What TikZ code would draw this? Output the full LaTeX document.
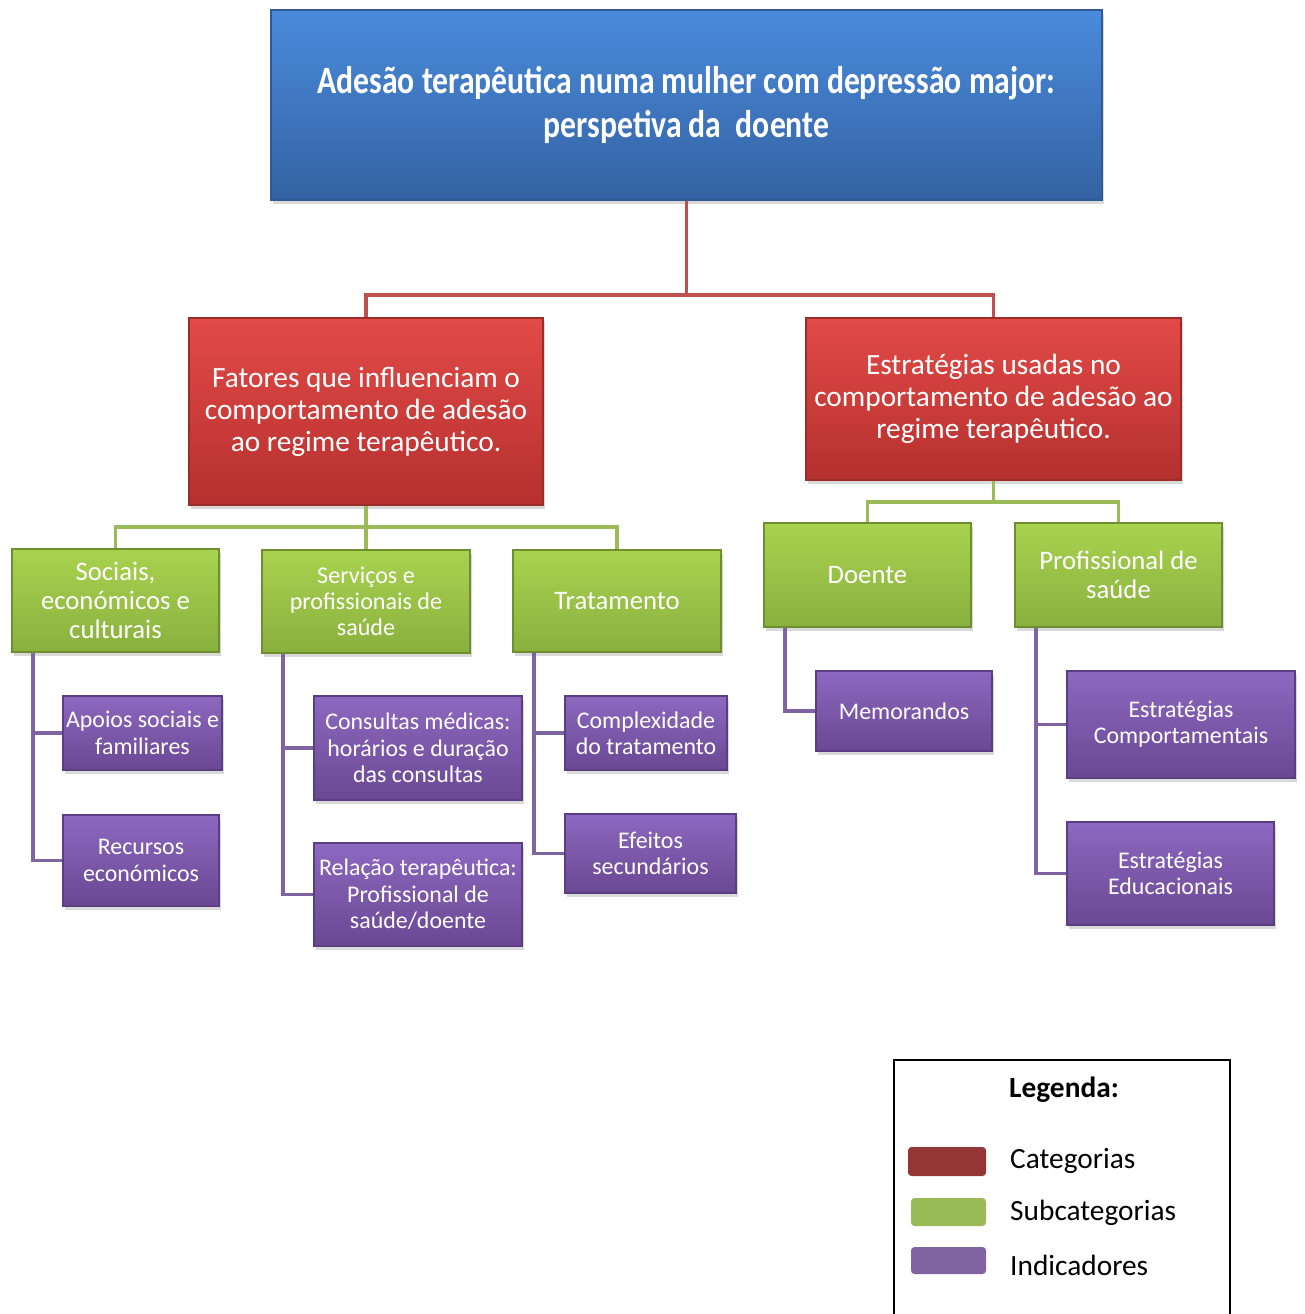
\documentclass[tikz,border=0pt]{standalone}
\usepackage{fontspec}
\setmainfont{Carlito}
\usepackage{graphicx}
\usepackage{tikz}
\usetikzlibrary{shapes.geometric, shadows}
\definecolor{titletop}{HTML}{4A8BDC}
\definecolor{titlebot}{HTML}{3362A2}
\definecolor{titleedge}{HTML}{2F5A93}
\definecolor{cattop}{HTML}{E24A47}
\definecolor{catbot}{HTML}{B5302E}
\definecolor{catedge}{HTML}{9A2C2A}
\definecolor{subtop}{HTML}{A9D24F}
\definecolor{subbot}{HTML}{8AB03E}
\definecolor{subedge}{HTML}{6E8E30}
\definecolor{indtop}{HTML}{8D68C0}
\definecolor{indbot}{HTML}{6A4893}
\definecolor{indedge}{HTML}{5A3D82}
\definecolor{catline}{HTML}{C0504D}
\definecolor{subline}{HTML}{9BBB59}
\definecolor{indline}{HTML}{8064A2}
\definecolor{catkey}{HTML}{943634}
\tikzstyle{titlebox} = [rectangle, top color=titletop, bottom color=titlebot, draw=titleedge, line width=0.8pt, text=white, align=center, font=\bfseries\fontsize{22}{25.5}\selectfont, drop shadow={opacity=0.3, shadow xshift=0.04cm, shadow yshift=-0.08cm}]
\tikzstyle{category} = [rectangle, top color=cattop, bottom color=catbot, draw=catedge, line width=0.8pt, text=white, align=center, inner sep=2pt, font=\fontsize{16.7}{18.2}\selectfont, drop shadow={opacity=0.3, shadow xshift=0.04cm, shadow yshift=-0.08cm}]
\tikzstyle{subcategory} = [rectangle, top color=subtop, bottom color=subbot, draw=subedge, line width=0.8pt, text=white, align=center, inner sep=2pt, font=\fontsize{15.2}{16.5}\selectfont, drop shadow={opacity=0.3, shadow xshift=0.04cm, shadow yshift=-0.08cm}]
\tikzstyle{indicator} = [rectangle, top color=indtop, bottom color=indbot, draw=indedge, line width=0.8pt, text=white, align=center, inner sep=1pt, font=\fontsize{13.6}{15}\selectfont, drop shadow={opacity=0.3, shadow xshift=0.04cm, shadow yshift=-0.08cm}]
\tikzstyle{keybox} = [rectangle, rounded corners=2pt, minimum width=1.5cm, minimum height=0.56cm]
\tikzstyle{keytext} = [anchor=west, font=\fontsize{16.7}{18}\selectfont]
\tikzstyle{redline} = [line width=2.2pt, draw=catline]
\tikzstyle{greenline} = [line width=2.2pt, draw=subline]
\tikzstyle{purpleline} = [line width=2.2pt, draw=indline]

\begin{document}
\begin{tikzpicture}
    \useasboundingbox (0,0) rectangle (26.08,-26.28);

    \node [titlebox, minimum width=16.62cm, minimum height=3.80cm] at (13.73,-2.10) (title) {\scalebox{0.82}[1]{Adesão terapêutica numa mulher com depressão major:}\\\scalebox{0.82}[1]{perspetiva da\ \ doente}};

    \node [category, minimum width=7.08cm, minimum height=3.74cm] at (7.32,-8.23) (fat) {Fatores que influenciam o\\comportamento de adesão\\ao regime terapêutico.};
    \node [category, minimum width=7.50cm, minimum height=3.24cm] at (19.87,-7.98) (est) {Estratégias usadas no\\comportamento de adesão ao\\regime terapêutico.};

    \node [subcategory, minimum width=4.14cm, minimum height=2.06cm] at (2.31,-12.01) (soc) {Sociais,\\económicos e\\culturais};
    \node [subcategory, minimum width=4.16cm, minimum height=2.06cm, font=\fontsize{13.7}{14.7}\selectfont] at (7.32,-12.03) (serv) {Serviços e\\profissionais de\\saúde};
    \node [subcategory, minimum width=4.16cm, minimum height=2.04cm] at (12.34,-12.02) (trat) {Tratamento};
    \node [subcategory, minimum width=4.14cm, minimum height=2.08cm] at (17.35,-11.50) (doente) {Doente};
    \node [subcategory, minimum width=4.14cm, minimum height=2.08cm] at (22.37,-11.50) (prof) {Profissional de\\saúde};

    \node [indicator, minimum width=3.18cm, minimum height=1.48cm] at (2.85,-14.66) (apoios) {Apoios sociais e\\familiares};
    \node [indicator, minimum width=3.12cm, minimum height=1.82cm] at (2.82,-17.21) (recursos) {Recursos\\económicos};
    \node [indicator, minimum width=4.16cm, minimum height=2.08cm] at (8.36,-14.96) (consultas) {Consultas médicas:\\horários e duração\\das consultas};
    \node [indicator, minimum width=4.16cm, minimum height=2.06cm] at (8.36,-17.89) (relacao) {Relação terapêutica:\\Profissional de\\saúde/doente};
    \node [indicator, minimum width=3.24cm, minimum height=1.48cm] at (12.92,-14.66) (complex) {Complexidade\\do tratamento};
    \node [indicator, minimum width=3.42cm, minimum height=1.58cm] at (13.01,-17.07) (efeitos) {Efeitos\\secundários};
    \node [indicator, minimum width=3.52cm, minimum height=1.60cm] at (18.08,-14.22) (memo) {Memorandos};
    \node [indicator, minimum width=4.56cm, minimum height=2.14cm] at (23.62,-14.49) (estcomp) {Estratégias\\Comportamentais};
    \node [indicator, minimum width=4.14cm, minimum height=2.06cm] at (23.41,-17.47) (estedu) {Estratégias\\Educacionais};

    \coordinate (rj) at (13.73,-5.90);
    \coordinate (gj1) at (7.32,-10.54);
    \coordinate (gj2) at (19.87,-10.04);

    \draw [redline] (title.south) -- (rj) -| (fat.north);
    \draw [redline] (rj) -| (est.north);
    \draw [greenline] (fat.south) -- (serv.north);
    \draw [greenline] (soc.north) |- (gj1) -| (trat.north);
    \draw [greenline] (est.south) -- (gj2) -| (doente.north);
    \draw [greenline] (gj2) -| (prof.north);
    \draw [purpleline] ([xshift=0.43cm]soc.south west) |- (recursos.west);
    \draw [purpleline] ([xshift=0.43cm]soc.south west) |- (apoios.west);
    \draw [purpleline] ([xshift=0.43cm]serv.south west) |- (relacao.west);
    \draw [purpleline] ([xshift=0.43cm]serv.south west) |- (consultas.west);
    \draw [purpleline] ([xshift=0.43cm]trat.south west) |- (efeitos.west);
    \draw [purpleline] ([xshift=0.43cm]trat.south west) |- (complex.west);
    \draw [purpleline] ([xshift=0.43cm]doente.south west) |- (memo.west);
    \draw [purpleline] ([xshift=0.43cm]prof.south west) |- (estedu.west);
    \draw [purpleline] ([xshift=0.43cm]prof.south west) |- (estcomp.west);

    % legenda
    \node [draw, line width=1pt, minimum width=6.72cm, minimum height=5.20cm] at (21.24,-23.80) (legend) {};
    \node [font=\bfseries\fontsize{16.7}{18}\selectfont] at (21.28,-21.80) (legtitle) {Legenda:};
    \node [keybox, fill=catkey, minimum width=1.56cm, minimum height=0.58cm] at (18.94,-23.23) (keycat) {};
    \node [keybox, fill=subline] at (18.97,-24.24) (keysub) {};
    \node [keybox, fill=indline, minimum height=0.54cm] at (18.97,-25.21) (keyind) {};
    \node [keytext] at (20.08,-23.22) (txtcat) {Categorias};
    \node [keytext] at (20.08,-24.26) (txtsub) {Subcategorias};
    \node [keytext] at (20.08,-25.30) (txtind) {Indicadores};
\end{tikzpicture}
\end{document}
